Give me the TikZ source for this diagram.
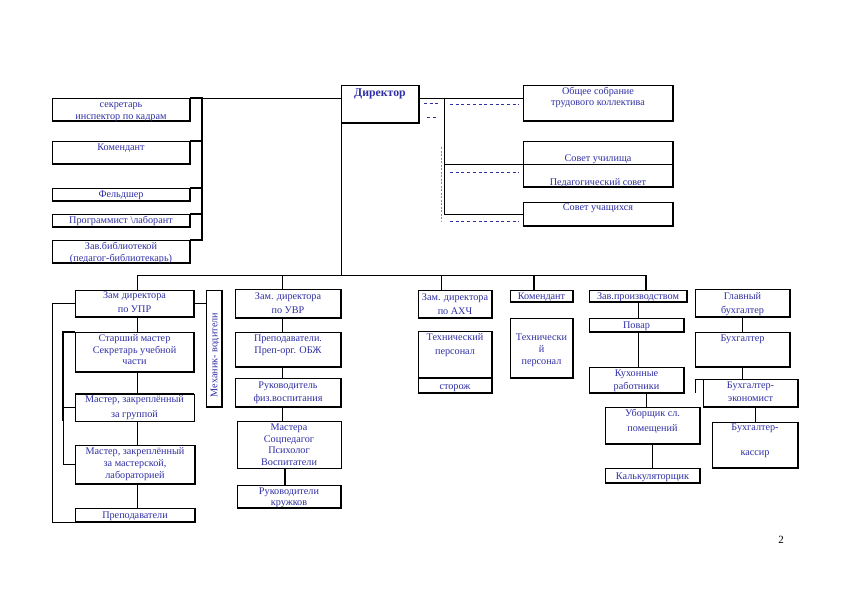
\documentclass[tikz,border=0pt]{standalone}
\usepackage{fontspec}
\setmainfont{Liberation Serif}
\usepackage{tikz}
\definecolor{txtblue}{RGB}{48,48,165}
\definecolor{dotpurple}{RGB}{195,100,195}

\begin{document}
\begin{tikzpicture}[x=1pt,y=-1pt,
    flat/.style={draw=black, fill=white, line width=0.6pt, inner sep=0pt, outer sep=0pt},
    unit/.style={flat, path picture={
        \draw[line width=2.6pt] (path picture bounding box.north east)
            -- (path picture bounding box.south east) -- (path picture bounding box.south west);}},
    txt/.style={anchor=north, align=center, inner sep=0pt, text=txtblue,
        font=\fontsize{10.2}{12}\selectfont},
    link/.style={line width=0.6pt},
    heavy/.style={line width=1.6pt},
    dashline/.style={txtblue, line width=0.5pt, dash pattern=on 3pt off 2.7pt},
    dotline/.style={dotpurple, line width=1pt, dash pattern=on 2pt off 1.5pt}]
    \useasboundingbox[fill=white] (0,0) rectangle (842,595);

    % director and staff on the left
    \node[unit, minimum width=78pt, minimum height=38pt,
        label={[txt, yshift=-1.5pt, font=\bfseries\fontsize{11.8}{14}\selectfont]north:{\strut Директор}}] (dir) at (380,104) {};
    \node[unit, minimum width=138pt, minimum height=23pt,
        label={[txt, yshift=-1pt]north:{\strut секретарь\\[-0.5pt]инспектор по кадрам}}] (secr) at (121,109.5) {};
    \node[unit, minimum width=138pt, minimum height=23pt,
        label={[txt, yshift=-1pt]north:{\strut Комендант}}] (kom1) at (121,152.5) {};
    \node[unit, minimum width=138pt, minimum height=13pt,
        label={[txt, yshift=-1pt]north:{\strut Фельдшер}}] (feld) at (121,194.5) {};
    \node[unit, minimum width=138pt, minimum height=13pt,
        label={[txt, yshift=-1pt]north:{\strut Программист \textbackslash лаборант}}] (prog) at (121,220.5) {};
    \node[unit, minimum width=138pt, minimum height=23pt,
        label={[txt, yshift=-1pt]north:{\strut Зав.библиотекой\\[-0.5pt](педагог-библиотекарь)}}] (lib) at (121,251.5) {};

    % councils on the right
    \node[unit, minimum width=150pt, minimum height=36pt,
        label={[txt, yshift=-1pt]north:{\strut Общее собрание\\[-1pt]трудового коллектива}}] (obsh) at (598,103) {};
    \node[unit, minimum width=150pt, minimum height=46pt,
        label={[txt, yshift=-12pt]north:{\strut Совет училища\\[12pt]Педагогический совет}}] (sovet) at (598,164) {};
    \node[unit, minimum width=150pt, minimum height=24pt,
        label={[txt, yshift=0pt]north:{\strut Совет учащихся}}] (uch) at (598,214) {};

    % deputy for training
    \node[unit, minimum width=119pt, minimum height=27pt,
        label={[txt, yshift=0pt]north:{\strut Зам директора\\[2pt]по УПР}}] (upr) at (134.5,303.5) {};
    \node[unit, minimum width=16pt, minimum height=117pt] (mex) at (214,348.5) {};
    \node[txt, anchor=center, rotate=90] (mextxt) at (215,355) {Механик-\ водители};
    \node[unit, minimum width=119pt, minimum height=40pt,
        label={[txt, yshift=-1pt]north:{\strut Старший мастер\\[-0.5pt]Секретарь учебной\\[-0.5pt]части}}] (smaster) at (134.5,352) {};
    \node[flat, minimum width=119pt, minimum height=27pt,
        label={[txt, yshift=0pt]north:{\strut Мастер, закреплённый\\[2.5pt]за группой}}] (mgr) at (134.5,407.5) {};
    \node[unit, minimum width=120pt, minimum height=39pt,
        label={[txt, yshift=-1pt]north:{\strut Мастер, закреплённый\\за мастерской,\\лабораторией}}] (mmas) at (135,464.5) {};
    \node[unit, minimum width=120pt, minimum height=14pt,
        label={[txt, yshift=-2pt]north:{\strut Преподаватели}}] (prep1) at (135,515) {};

    % deputy for education
    \node[unit, minimum width=106pt, minimum height=29pt,
        label={[txt, yshift=-2pt]north:{\strut Зам. директора\\[2pt]по УВР}}] (uvr) at (288,303.5) {};
    \node[unit, minimum width=106pt, minimum height=35pt,
        label={[txt, yshift=-1pt]north:{\strut Преподаватели.\\Преп-орг. ОБЖ}}] (obzh) at (288,349.5) {};
    \node[unit, minimum width=106pt, minimum height=29pt,
        label={[txt, yshift=-2pt]north:{\strut Руководитель\\[1pt]физ.воспитания}}] (fiz) at (288,392.5) {};
    \node[flat, minimum width=104pt, minimum height=47pt,
        label={[txt, yshift=-1pt]north:{\strut Мастера\\[-0.5pt]Соцпедагог\\[-0.5pt]Психолог\\[-0.5pt]Воспитатели}}] (mast) at (289,444.5) {};
    \node[unit, minimum width=104pt, minimum height=23pt,
        label={[txt, yshift=-1pt]north:{\strut Руководители\\[-1.5pt]кружков}}] (kruzh) at (289,496.5) {};

    % deputy for household
    \node[unit, minimum width=74pt, minimum height=28pt,
        label={[txt, yshift=-2pt]north:{\strut Зам. директора\\[1.5pt]по АХЧ}}] (axch) at (455,304) {};
    \node[unit, minimum width=74pt, minimum height=47pt,
        label={[txt, yshift=-1pt]north:{\strut Технический\\[2pt]персонал}}] (tech1) at (455,354.5) {};
    \node[unit, minimum width=74pt, minimum height=15pt,
        label={[txt, yshift=-3pt]north:{\strut сторож}}] (storozh) at (455,385.5) {};
    \node[unit, minimum width=63pt, minimum height=12pt,
        label={[txt, yshift=-1pt]north:{\strut Комендант}}] (kom2) at (541.5,296) {};
    \node[unit, minimum width=63pt, minimum height=60pt,
        label={[txt, yshift=-14pt]north:{\strut Технически\\й\\персонал}}] (tech2) at (541.5,348) {};

    % kitchen
    \node[unit, minimum width=98pt, minimum height=12pt,
        label={[txt, yshift=-1pt]north:{\strut Зав.производством}}] (proizv) at (638,296) {};
    \node[unit, minimum width=95pt, minimum height=14pt,
        label={[txt, yshift=-2pt]north:{\strut Повар}}] (povar) at (636.5,325) {};
    \node[unit, minimum width=95pt, minimum height=26pt,
        label={[txt, yshift=-1pt]north:{\strut Кухонные\\[0.5pt]работники}}] (kuh) at (636.5,380) {};
    \node[unit, minimum width=95pt, minimum height=37pt,
        label={[txt, yshift=-1pt]north:{\strut Уборщик сл.\\[3pt]помещений}}] (ubor) at (652.5,425.5) {};
    \node[unit, minimum width=95pt, minimum height=15pt,
        label={[txt, yshift=-3pt]north:{\strut Калькуляторщик}}] (kalk) at (652.5,475.5) {};

    % accounts
    \node[unit, minimum width=95pt, minimum height=28pt,
        label={[txt, yshift=-2pt]north:{\strut Главный\\[2pt]бухгалтер}}] (glbuh) at (742.5,303) {};
    \node[unit, minimum width=95pt, minimum height=35pt,
        label={[txt, yshift=-1pt]north:{\strut Бухгалтер}}] (buh) at (742.5,349.5) {};
    \node[unit, minimum width=95pt, minimum height=28pt,
        label={[txt, yshift=-1pt]north:{\strut Бухгалтер-\\[1pt]экономист}}] (econ) at (750.5,393) {};
    \node[unit, minimum width=86pt, minimum height=46pt,
        label={[txt, yshift=0pt]north:{\strut Бухгалтер-\\[13pt]кассир}}] (kassir) at (755,445) {};

    \node[font=\fontsize{11}{13}\selectfont, inner sep=0pt] (pagenum) at (781,540) {2};

    % connectors, top
    \coordinate (lb) at (202,98);
    \coordinate (rb) at (444,98);
    \draw[link] (secr.north east) -- (dir.west |- lb);
    \draw[heavy] (secr.north east) -- (lb) -- (lb |- lib.north east) -- (lib.north east);
    \draw[heavy] (kom1.north east) -- (kom1.north east -| lb);
    \draw[heavy] (feld.north east) -- (feld.north east -| lb);
    \draw[heavy] (prog.north east) -- (prog.north east -| lb);
    \draw[link] (dir.east |- rb) -- (obsh.west |- rb);
    \draw[link] (rb) |- (uch.west);
    \draw[link] (rb |- sovet.west) -- (sovet.east);
    \draw[dashline] (424,103) -- (441,103);
    \draw[dashline] (427,117) -- (438,117);
    \draw[dashline] (450,104) -- (519,104);
    \draw[dashline] (450,172) -- (519,172);
    \draw[dashline] (450,221) -- (519,221);
    \draw[dotline] (441,147) -- (441,221);

    % connectors, bus
    \coordinate (busl) at (137,275);
    \coordinate (b2) at (282,275);
    \coordinate (b3) at (441,275);
    \coordinate (b4) at (534,275);
    \coordinate (busr) at (646,275);
    \draw[link] (busl) -- (busr);
    \draw[link] (dir.south west) -- (dir.south west |- busl);
    \draw[link] (busl) -- (busl |- upr.north);
    \draw[link] (b2) -- (b2 |- uvr.north);
    \draw[link] (b3) -- (b3 |- axch.north);
    \draw[heavy] (b4) -- (b4 |- kom2.north);
    \draw[heavy] (busr) -- (busr |- proizv.north);

    % connectors, training
    \foreach \a/\b in {upr/smaster, smaster/mgr, mgr/mmas, mmas/prep1}
        \draw[link] (busl |- \a.south) -- (busl |- \b.north);
    \coordinate (ll) at (52,522);
    \coordinate (sb) at (63,332);
    \draw[link] (upr.west) -| (ll) -- (prep1.south east);
    \draw[link] (upr.east) -- (upr.east -| mex.west);
    \draw[heavy] (smaster.north west) -- (sb) -- (sb |- mgr.south);
    \draw[heavy] (mgr.north west) -- (mgr.north east);
    \draw[link] (mgr.west) -- (mgr.west -| sb);
    \draw[link] (sb |- mgr.south) |- (mmas.west);

    % connectors, education
    \foreach \a/\b in {uvr/obzh, obzh/fiz, fiz/mast}
        \draw[link] (b2 |- \a.south) -- (b2 |- \b.north);
    \draw[heavy] ([xshift=-4pt]mast.south) -- ([xshift=-4pt]kruzh.north);

    % connectors, kitchen and accounts
    \draw[link] (proizv.south) -- (proizv.south |- povar.north);
    \draw[link] (proizv.south |- povar.south) -- (proizv.south |- kuh.north);
    \draw[link] (busr |- kuh.south) -- (busr |- ubor.north);
    \draw[heavy] (ubor.south) -- (kalk.north);
    \draw[heavy] (glbuh.south) -- (glbuh.south |- buh.north);
    \draw[heavy] (buh.south) -- (buh.south |- econ.north);
    \draw[link] (kassir.north |- econ.south) -- (kassir.north);
    \draw[link] (econ.north west) -- ++(-8,0) -- ++(0,14);
\end{tikzpicture}
\end{document}
